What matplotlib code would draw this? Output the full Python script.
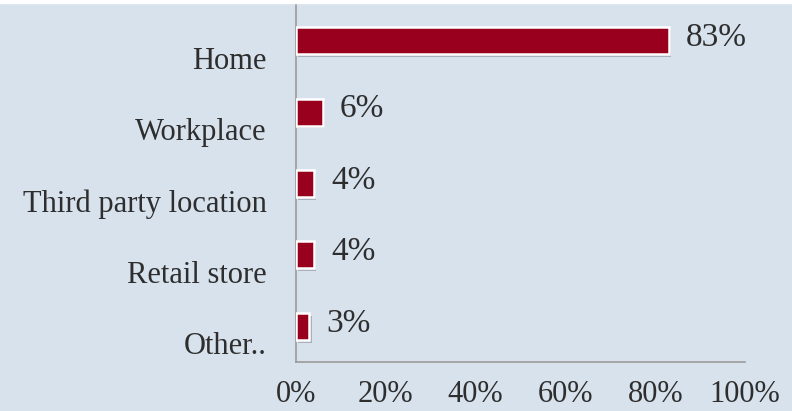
import matplotlib
matplotlib.use("Agg")
import matplotlib.pyplot as plt
import matplotlib.patheffects as pe
import matplotlib.transforms as mtransforms
from matplotlib.patches import Rectangle

# ── Data ──────────────────────────────────────────────
categories = ["Home", "Workplace", "Third party location", "Retail store", "Other.."]
values = [83, 6, 4, 4, 3]
xticks = [0, 20, 40, 60, 80, 100]

BG = "#d8e2ed"
BAR = "#98001e"
TEXT = "#2e2e2e"

plt.rcParams.update({
    "font.family": ["Liberation Serif", "DejaVu Serif"],
    "font.size": 22,
    "text.color": TEXT,
    "xtick.color": TEXT,
    "ytick.color": TEXT,
})

fig = plt.figure(figsize=(7.92, 4.11), dpi=100, facecolor=BG)
fig.patches.append(Rectangle((0, 1 - 3 / 411), 1, 3 / 411, transform=fig.transFigure,
                             color="white", zorder=0))
ax = fig.add_axes([296 / 792, 1 - 362 / 411, 449 / 792, 357 / 411])
ax.set_facecolor(BG)

y = list(range(len(categories)))
bars = ax.barh(y, values, height=0.38, color=BAR, edgecolor="white", linewidth=1.8,
               zorder=3)
for b in bars:
    b.set_path_effects([pe.SimplePatchShadow(offset=(1.5, -2), shadow_rgbFace="#7a7f86",
                                             alpha=0.5), pe.Normal()])

for yi, v in zip(y, values):
    ax.text(v + 3.8, yi - 0.04, f"{v}%", va="center", ha="left", fontsize=24, color=TEXT)

ax.set_ylim(len(categories) - 0.5, -0.5)
ax.set_xlim(0, 100)
ax.set_yticks(y)
ax.set_yticklabels(categories)
ax.set_xticks(xticks)
ax.set_xticklabels([f"{t}%" for t in xticks], fontsize=22)
ax.tick_params(axis="both", length=0)
ax.tick_params(axis="x", pad=13)
ax.tick_params(axis="y", pad=21)

# category labels sit a bit below their bars
offset = mtransforms.ScaledTranslation(0, -17 / 100, fig.dpi_scale_trans)
for lbl in ax.get_yticklabels():
    lbl.set_transform(lbl.get_transform() + offset)

for side in ("top", "right"):
    ax.spines[side].set_visible(False)
for side in ("left", "bottom"):
    ax.spines[side].set_color("#9a9a9a")
    ax.spines[side].set_linewidth(1.2)

fig.savefig("out.png", dpi=100, facecolor=BG)
